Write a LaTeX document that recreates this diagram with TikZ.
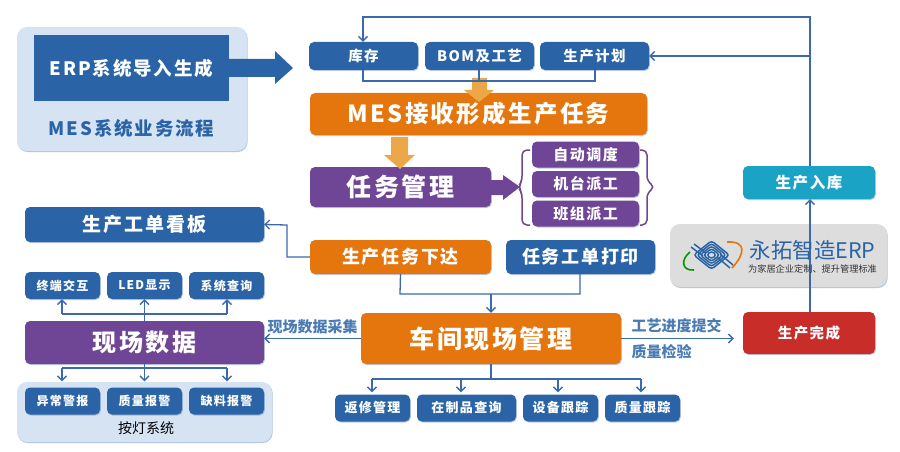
\documentclass[tikz,border=0pt]{standalone}
\usepackage{fontspec}
\setmainfont{Noto Sans CJK SC}
\newfontfamily\widefont[LetterSpace=10]{Noto Sans CJK SC}
\usetikzlibrary{shadows,arrows.meta}
\definecolor{bluec}{HTML}{2A64A6}
\definecolor{linec}{HTML}{3C69AE}
\definecolor{orangec}{HTML}{E5760E}
\definecolor{purplec}{HTML}{6F4596}
\definecolor{cyanc}{HTML}{1BA3C6}
\definecolor{redc}{HTML}{C92D2A}
\definecolor{panelc}{HTML}{D5E3F2}
\definecolor{grayc}{HTML}{DDDDDD}
\definecolor{downc}{HTML}{EBA748}
\newcommand{\fs}[1]{\widefont\bfseries\fontsize{#1}{#1}\selectfont}
\tikzstyle{flowchart} = [
  x=1pt,
  y=-1pt,
]
\tikzstyle{card} = [
  rounded corners=5pt,
  inner sep=0pt,
  text=white,
  drop shadow={shadow xshift=0.8pt,shadow yshift=-1pt,opacity=0.35,fill=linec},
]
\tikzstyle{panel} = [
  rounded corners=10pt,
  drop shadow={shadow xshift=0.6pt,shadow yshift=-1pt,opacity=0.4,fill=linec},
]
\tikzstyle{topcard} = [card,fill=bluec,minimum width=109pt,minimum height=28pt,font=\fs{14.5}]
\tikzstyle{subcard} = [card,fill=purplec,minimum width=107pt,minimum height=26pt,font=\fs{15}]
\tikzstyle{smallcard} = [card,fill=bluec,minimum width=75pt,minimum height=27pt,font=\fs{13}]
\tikzstyle{flow} = [linec,line width=1.3pt,-{Straight Barb[length=4.5pt,width=9pt]}]
\tikzstyle{wire} = [linec,line width=1.3pt]
\tikzstyle{caption} = [font=\bfseries\fontsize{15}{15}\selectfont,text=bluec!85!white]

\begin{document}
\begin{tikzpicture}[flowchart]
    \useasboundingbox (0,0) rectangle (900,452);

    % Panels
    \draw[panel,fill=panelc,draw=none] (17,27) rectangle (247,151);
    \draw[panel,fill=panelc,draw=none] (17,382) rectangle (272,442);
    \node[fill=bluec,text=white,minimum width=195pt,minimum height=66pt,inner sep=0pt,font=\fs{18.5}] (erpin) at (131.5,68) {ERP系统导入生成};
    \node[text=bluec,font=\fs{18.5}] (title) at (131.5,128) {MES系统业务流程};
    \node[font=\fontsize{14}{14}\selectfont] (lamp) at (146,428) {按灯系统};

    % Top row
    \node[topcard] (stock) at (363.5,56) {库存};
    \node[topcard] (bom) at (479.5,56) {BOM及工艺};
    \node[topcard] (plan) at (594.5,56) {生产计划};
    \node[card,fill=orangec,minimum width=337pt,minimum height=42pt,font=\fs{23.5}] (receive) at (478.5,114) {MES接收形成生产任务};
    \node[card,fill=purplec,minimum width=181pt,minimum height=40pt,font=\fs{25}] (task) at (400.5,187) {任务管理};

    % Dispatch
    \node[subcard] (auto) at (585.5,154.5) {自动调度};
    \node[subcard] (machine) at (585.5,184) {机台派工};
    \node[subcard] (team) at (585.5,213.5) {班组派工};

    % Middle row
    \node[card,fill=bluec,minimum width=239pt,minimum height=35pt,font=\fs{19}] (board) at (144.5,224.5) {生产工单看板};
    \node[card,fill=orangec,minimum width=181pt,minimum height=34pt,font=\fs{18}] (issue) at (400.5,257) {生产任务下达};
    \node[card,fill=bluec,minimum width=149pt,minimum height=34pt,font=\fs{18}] (print) at (580.5,257) {任务工单打印};
    \node[card,fill=orangec,minimum width=260pt,minimum height=51pt,font=\fs{25}] (shop) at (491,338.5) {车间现场管理};
    \node[card,fill=purplec,minimum width=239pt,minimum height=43pt,font=\fs{24}] (field) at (144.5,342.5) {现场数据};

    % Right column
    \node[card,fill=cyanc,minimum width=132pt,minimum height=33pt,font=\fs{15.5}] (store) at (809,182.5) {生产入库};
    \node[panel,fill=grayc,minimum width=217pt,minimum height=63pt] (erp) at (778.5,255.5) {};
    \node[card,fill=redc,minimum width=132pt,minimum height=42pt,font=\fs{14.5}] (done) at (809,333) {生产完成};

    % Field data outputs
    \node[smallcard,font=\fs{12}] (term) at (62.5,285.5) {终端交互};
    \node[smallcard,font=\fs{12}] (led) at (144.5,285.5) {LED显示};
    \node[smallcard,font=\fs{12}] (query) at (226.5,285.5) {系统查询};
    \node[smallcard,font=\fs{12}] (alarm) at (62.5,401) {异常警报};
    \node[smallcard,font=\fs{12}] (quality) at (144.5,401) {质量报警};
    \node[smallcard,font=\fs{12}] (lack) at (226.5,401) {缺料报警};

    % Shop floor outputs
    \node[smallcard] (rework) at (372.5,408) {返修管理};
    \node[smallcard,minimum width=99pt] (wip) at (466.5,408) {在制品查询};
    \node[smallcard] (device) at (560.5,408) {设备跟踪};
    \node[smallcard] (trace) at (642.5,408) {质量跟踪};

    % Big arrows
    \fill[bluec] (erpin.east |- 0,59) -- (275,59) -- (275,51) -- (293,68) -- (275,84) -- (275,77) -- (erpin.east |- 0,77) -- cycle;
    \fill[downc] (472,78) -- (487,78) -- (487,90) -- (494,90) -- (479,102) -- (464,90) -- (472,90) -- cycle;
    \fill[downc] (391,137) -- (408,137) -- (408,155) -- (415,155) -- (400,169) -- (384,155) -- (391,155) -- cycle;
    \fill[purplec] (task.east |- 0,180) -- (503,180) -- (503,175) -- (520,187) -- (503,200) -- (503,195) -- (task.east |- 0,195) -- cycle;

    % Braces
    \draw[purplec,line width=1.5pt,rounded corners=5pt] (530,150) -- (522,150) -- (522,181) -- (518,187) -- (522,193) -- (522,225) -- (530,225);
    \draw[purplec,line width=1.5pt,rounded corners=5pt] (640,150) -- (647,150) -- (647,181) -- (655,187) -- (647,193) -- (647,225) -- (640,225);

    % Feedback lines
    \draw[flow] (store.north -| 810,0) -- (810,17) -- (363,17) -- (stock.north -| 363,0);
    \draw[flow] (810,56) -- (plan.east);
    \draw[flow] (erp.south -| 810,0) -- (store.south -| 810,0);
    \draw[wire] (done.north -| 810,0) -- (erp.south -| 810,0);
    \draw[wire] (stock.south -| 363,0) -- (363,81) -- (595,81) -- (plan.south -| 595,0);
    \draw[wire] (bom.south -| 479,0) -- (479,81);

    % Task lines
    \draw[flow] (issue.west) -- (287,257) -- (287,225) -- (board.east);
    \draw[wire] (issue.south) -- (400,294) -- (580,294) -- (print.south -| 580,0);
    \draw[flow] (491,294) -- (shop.north);
    \draw[flow] (shop.west) -- (field.east |- shop.west);
    \draw[flow,shorten >=9pt] (shop.east) -- (done.west |- shop.east);

    % Field data lines
    \draw[flow] (field.north) -- (led.south);
    \draw[flow] (62,314) -- (term.south -| 62,0);
    \draw[flow] (227,314) -- (query.south -| 227,0);
    \draw[wire] (62,314) -- (227,314);
    \draw[flow,shorten >=6pt] (field.south) -- (quality.north);
    \draw[flow,shorten >=6pt] (62,368) -- (alarm.north -| 62,0);
    \draw[flow,shorten >=6pt] (227,368) -- (lack.north -| 227,0);
    \draw[wire] (62,368) -- (227,368);

    % Shop floor lines
    \draw[wire] (shop.south) -- (491,379);
    \draw[wire] (372,379) -- (641,379);
    \draw[flow,shorten >=2pt] (372,379) -- (rework.north -| 372,0);
    \draw[flow,shorten >=2pt] (461,379) -- (wip.north -| 461,0);
    \draw[flow,shorten >=2pt] (558,379) -- (device.north -| 558,0);
    \draw[flow,shorten >=2pt] (641,379) -- (trace.north -| 641,0);

    % Labels
    \node[caption] (collect) at (312.5,327) {现场数据采集};
    \node[caption] (submit) at (676.5,326) {工艺进度提交};
    \node[caption] (check) at (661.5,352) {质量检验};

    % Logo
    \draw[orangec,line width=1.6pt] (727,242) .. controls (747,241) and (745,254) .. (732,268);
    \draw[green!60!black,line width=1.6pt] (690,252) .. controls (680,260) and (682,271) .. (694,270);
    \foreach \r in {5,8.2,11.4,14.6,17.8} {
        \draw[bluec,line width=1.5pt,rounded corners=3pt] (711.5-\r,255) -- (711.5,255-0.8*\r) -- (711.5+\r,255) -- (711.5,255+0.8*\r) -- cycle;
    }
    \draw[bluec,line width=1.5pt] (691,247) -- (703,256);
    \draw[bluec,line width=1.5pt] (694,244) -- (706,253);
    \draw[bluec,line width=1.5pt] (720,254) -- (733,265);
    \draw[bluec,line width=1.5pt] (717,257) -- (730,268);
    \node[text=bluec,font=\fontsize{21.5}{21.5}\selectfont] (brand) at (812.5,250) {永拓智造ERP};
    \node[text=black!80,font=\fontsize{9.2}{9.2}\selectfont] (slogan) at (812.5,268.5) {为家居企业定制、提升管理标准};
  \end{tikzpicture}
\end{document}
